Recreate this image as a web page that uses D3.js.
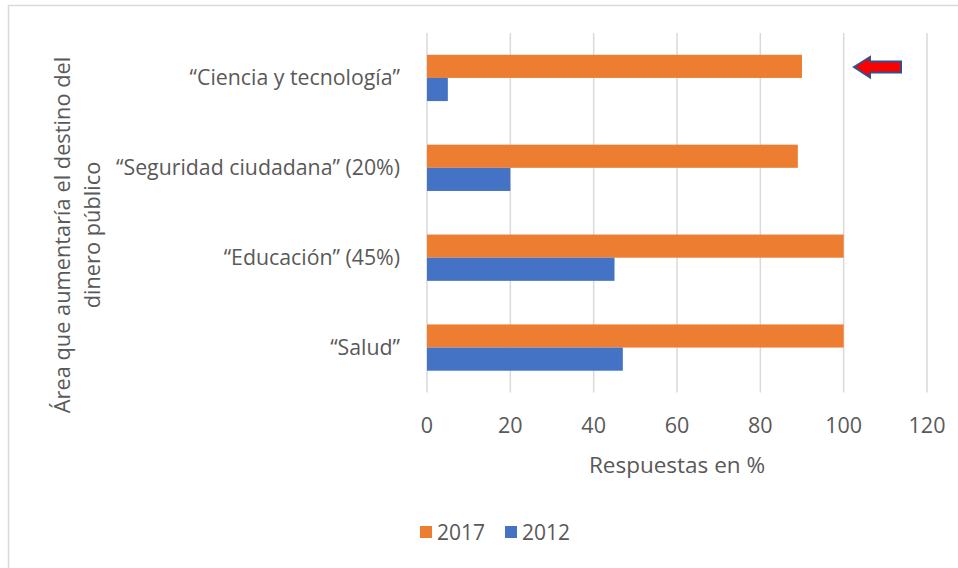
<!DOCTYPE html>
<meta charset="utf-8">
<style>
body { margin: 0; background: #fff; }
text { font-family: "Open Sans", "Noto Sans", sans-serif; fill: #595959; }
</style>
<body>
<script src="https://cdn.jsdelivr.net/npm/d3@7"></script>
<script>
// datos
var categorias = ["\u201cCiencia y tecnología\u201d", "\u201cSeguridad ciudadana\u201d (20%)", "\u201cEducación\u201d (45%)", "\u201cSalud\u201d"];
var series = ["2017", "2012"];
var valores2017 = [90, 89, 100, 100];
var valores2012 = [5, 20, 45, 47];
var ticks = [0, 20, 40, 60, 80, 100, 120];
var colores = ["#ed7d31", "#4472c4"];

var width = 958, height = 568;
var svg = d3.select("body").append("svg")
    .attr("width", width)
    .attr("height", height);

// borde del area del grafico
svg.append("path")
    .attr("d", "M8.5,568 V5.5 H958")
    .attr("fill", "none")
    .attr("stroke", "#d9d9d9")
    .attr("stroke-width", 1.5);

var x = d3.scaleLinear().domain([0, 120]).range([427, 927]);
var y = d3.scaleBand().domain(categorias).range([33, 392.5]).paddingInner(0.485).paddingOuter(0.2425);
var y2 = d3.scaleBand().domain(series).range([0, y.bandwidth()]);

// lineas de cuadricula
svg.selectAll(".grid")
    .data(ticks)
  .enter().append("line")
    .attr("class", "grid")
    .attr("x1", function(d) { return x(d); })
    .attr("x2", function(d) { return x(d); })
    .attr("y1", 33)
    .attr("y2", 392.5)
    .attr("stroke", "#d9d9d9")
    .attr("stroke-width", 1.5);

var filas = categorias.map(function(c, i) {
  return {cat: c, vals: [valores2017[i], valores2012[i]]};
});

var grupo = svg.selectAll(".grupo")
    .data(filas)
  .enter().append("g")
    .attr("class", "grupo")
    .attr("transform", function(d) { return "translate(0," + y(d.cat) + ")"; });

grupo.selectAll("rect")
    .data(function(d) { return d.vals.map(function(v, j) { return {serie: series[j], v: v, j: j}; }); })
  .enter().append("rect")
    .attr("x", x(0))
    .attr("y", function(d) { return y2(d.serie); })
    .attr("width", function(d) { return x(d.v) - x(0); })
    .attr("height", y2.bandwidth())
    .attr("fill", function(d) { return colores[d.j]; });

// etiquetas de categorias
svg.selectAll(".cat")
    .data(categorias)
  .enter().append("text")
    .attr("class", "cat")
    .attr("x", 400)
    .attr("y", function(d) { return y(d) + y.bandwidth() / 2 + 7; })
    .attr("text-anchor", "end")
    .attr("font-size", 21.3)
    .text(function(d) { return d; });

// etiquetas del eje x
svg.selectAll(".tick")
    .data(ticks)
  .enter().append("text")
    .attr("class", "tick")
    .attr("x", function(d) { return x(d); })
    .attr("y", 433)
    .attr("text-anchor", "middle")
    .attr("font-size", 21.5)
    .text(function(d) { return d; });

svg.append("text")
    .attr("x", 677)
    .attr("y", 473)
    .attr("text-anchor", "middle")
    .attr("font-size", 22.5)
    .text("Respuestas en %");

// titulo del eje y
var ty = svg.append("text")
    .attr("transform", "translate(70,235) rotate(-90)")
    .attr("text-anchor", "middle")
    .attr("font-size", 21.8);
ty.append("tspan").attr("x", 0).attr("dy", 0).text("Área que aumentaría el destino del");
ty.append("tspan").attr("x", 0).attr("dy", 30).text("dinero público");

// leyenda
var ley = svg.selectAll(".ley")
    .data(series)
  .enter().append("g")
    .attr("class", "ley")
    .attr("transform", function(d, i) { return "translate(" + (420 + i * 85) + ",526)"; });
ley.append("rect")
    .attr("width", 12)
    .attr("height", 12)
    .attr("fill", function(d, i) { return colores[i]; });
ley.append("text")
    .attr("x", 17)
    .attr("y", 14)
    .attr("font-size", 21)
    .text(function(d) { return d; });

// flecha roja
svg.append("path")
    .attr("d", "M854,67 L870,57 L870,61.5 L901,61.5 L901,72.5 L870,72.5 L870,77.5 Z")
    .attr("fill", "#ff0000")
    .attr("stroke", "#2f528f")
    .attr("stroke-width", 2);
</script>
</body>
